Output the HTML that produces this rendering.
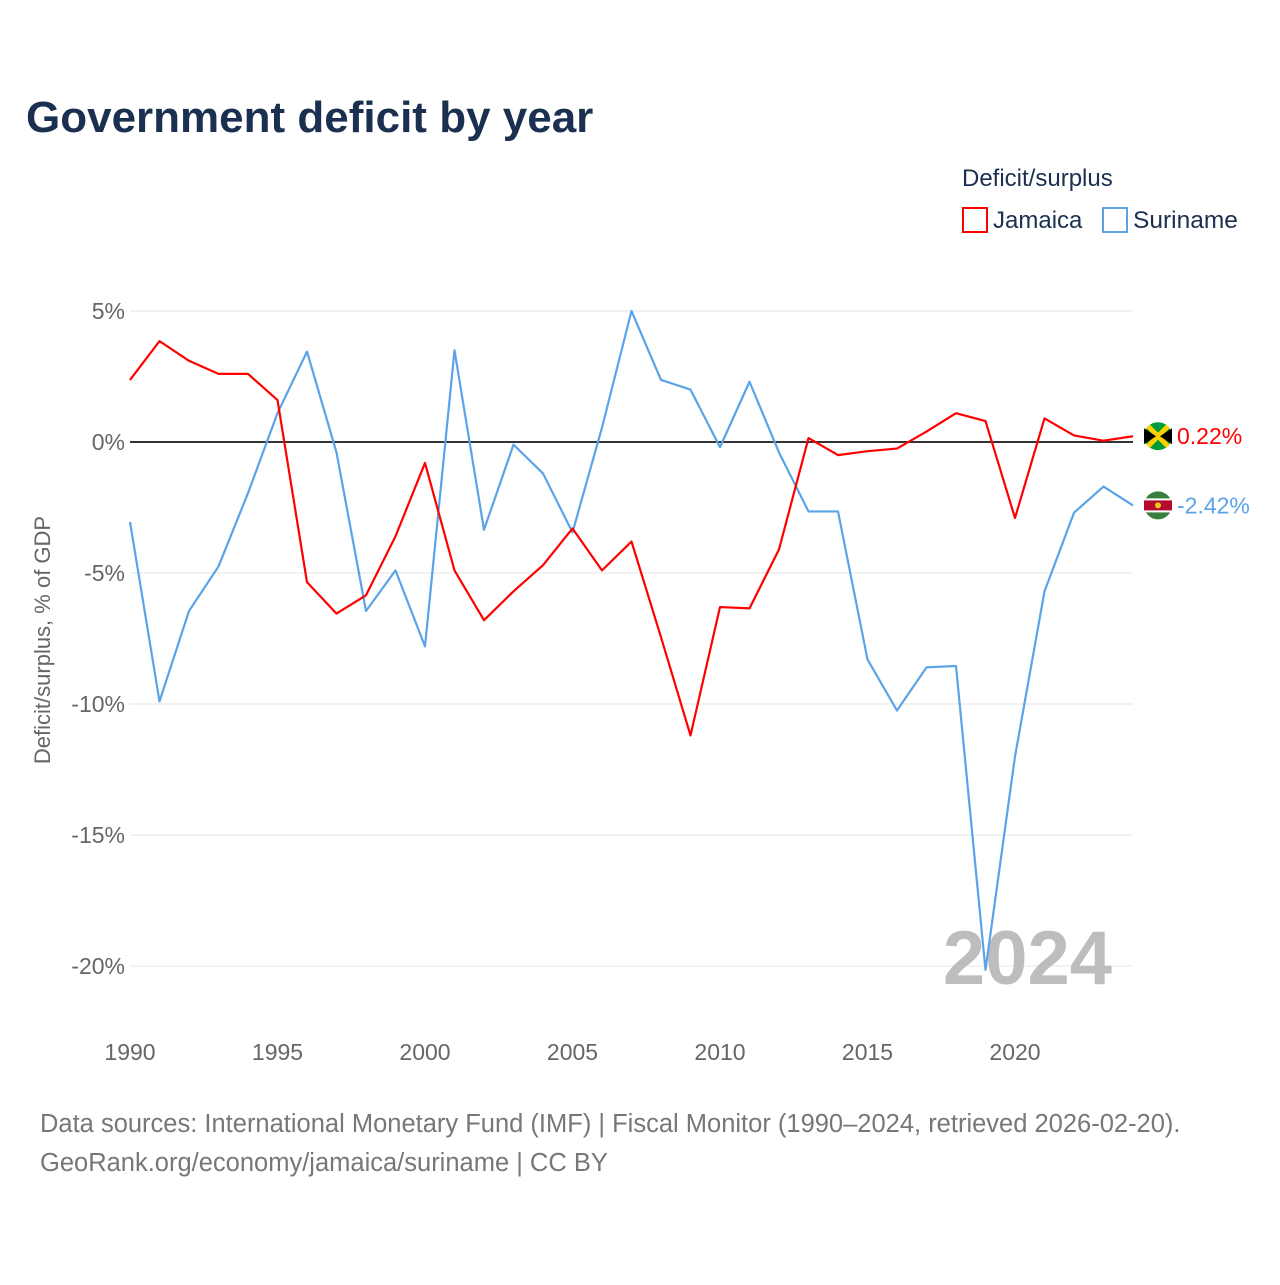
<!DOCTYPE html>
<html><head><meta charset="utf-8">
<style>
body{margin:0;background:#fff;font-family:"Liberation Sans",sans-serif;}
</style></head>
<body>
<svg width="1280" height="1280" xmlns="http://www.w3.org/2000/svg" font-family="Liberation Sans, sans-serif">
<text x="26" y="132" font-size="44" font-weight="bold" fill="#1b3050">Government deficit by year</text>
<text x="962" y="186" font-size="24" fill="#1b3050">Deficit/surplus</text>
<g><rect x="963" y="208" width="24" height="24" fill="none" stroke="#ff0000" stroke-width="2"/><text x="993" y="228" font-size="24" fill="#1b3050">Jamaica</text></g>
<g><rect x="1103" y="208" width="24" height="24" fill="none" stroke="#5ba3e8" stroke-width="2"/><text x="1133" y="228" font-size="24.5" fill="#1b3050">Suriname</text></g>
<g id="grid"></g>
<g id="yt"></g>
<g id="xt"></g>
<text transform="translate(50,640) rotate(-90)" text-anchor="middle" font-size="22" fill="#666">Deficit/surplus, % of GDP</text>
<text x="1112" y="984" text-anchor="end" font-size="76" font-weight="bold" fill="#bdbdbd">2024</text>
<g id="series"></g>
<text x="40" y="1132" font-size="25.5" fill="#777">Data sources: International Monetary Fund (IMF) | Fiscal Monitor (1990–2024, retrieved 2026-02-20).</text>
<text x="40" y="1171" font-size="25.5" fill="#777">GeoRank.org/economy/jamaica/suriname | CC BY</text>
</svg>
<script>
const years=[];for(let y=1990;y<=2024;y++)years.push(y);
const jamaica=[2.37,3.85,3.1,2.6,2.6,1.6,-5.35,-6.55,-5.85,-3.6,-0.8,-4.9,-6.8,-5.7,-4.7,-3.3,-4.9,-3.8,-7.45,-11.2,-6.3,-6.35,-4.1,0.15,-0.5,-0.35,-0.25,0.4,1.1,0.8,-2.9,0.9,0.25,0.05,0.22];
const suriname=[-3.05,-9.9,-6.45,-4.75,-1.95,1.1,3.45,-0.4,-6.45,-4.9,-7.8,3.5,-3.35,-0.1,-1.2,-3.45,0.55,5.0,2.37,2.0,-0.2,2.3,-0.4,-2.65,-2.65,-8.3,-10.25,-8.6,-8.55,-20.15,-12.0,-5.7,-2.7,-1.7,-2.42];
const yTicks=[5,0,-5,-10,-15,-20];
const xTicks=[1990,1995,2000,2005,2010,2015,2020];
const NS="http://www.w3.org/2000/svg";
const X=v=>130+(v-1990)*(1133-130)/34;
const Y=v=>442-v*26.2;
function mk(t,a,p){const e=document.createElementNS(NS,t);for(const k in a)e.setAttribute(k,a[k]);p.appendChild(e);return e;}
const grid=document.getElementById('grid'),yt=document.getElementById('yt'),xt=document.getElementById('xt'),ser=document.getElementById('series');
yTicks.forEach(v=>{
 const l=mk('line',{x1:130,x2:1133,y1:Y(v),y2:Y(v),stroke:v===0?'#333':'#e6e6e6','stroke-width':v===0?2:1},grid);
 
 
 const t=mk('text',{x:125,y:Y(v)+8,'text-anchor':'end','font-size':23,fill:'#666'},yt);
 t.textContent=v+'%';
 
 
});
xTicks.forEach(v=>{
 const t=mk('text',{x:X(v),y:1060,'text-anchor':'middle','font-size':23,fill:'#666'},xt);
 t.textContent=v;
 
 
});
function line(d,c,name){
 const p=mk('polyline',{points:d.map((v,i)=>X(years[i])+','+Y(v)).join(' '),fill:'none',stroke:c,'stroke-width':2.2,'stroke-linejoin':'round'},ser);
 
 
}
line(suriname,'#5ba3e8','suriname-line');
line(jamaica,'#ff0000','jamaica-line');
function endLabel(d,c,name,flag){
 const v=d[d.length-1];let y=Y(v);
 const g=mk('g',{},ser);
 
 
 if(flag==='jm'){
  mk('circle',{cx:1158,cy:y,r:14,fill:'#009b3a'},g);
  mk('path',{d:`M1148 ${y-10}L1168 ${y+10}M1168 ${y-10}L1148 ${y+10}`,stroke:'#fed100','stroke-width':5},g);
  mk('path',{d:`M1144 ${y-8}L1156 ${y}L1144 ${y+8}Z M1172 ${y-8}L1160 ${y}L1172 ${y+8}Z`,fill:'#000'},g);
 }else{
  mk('circle',{cx:1158,cy:y,r:14,fill:'#377e3f'},g);
  mk('rect',{x:1144,y:y-7,width:28,height:14,fill:'#fff'},g);
  mk('rect',{x:1144,y:y-5,width:28,height:10,fill:'#b40a2d'},g);
  mk('circle',{cx:1158,cy:y,r:3,fill:'#ecc81d'},g);
 }
 const t=mk('text',{x:1177,y:y+8,'font-size':23,fill:c},g);
 t.textContent=v.toFixed(2)+'%';
}
endLabel(jamaica,'#ff0000','jamaica-end-label','jm');
endLabel(suriname,'#5ba3e8','suriname-end-label','sr');
</script>
</body></html>
